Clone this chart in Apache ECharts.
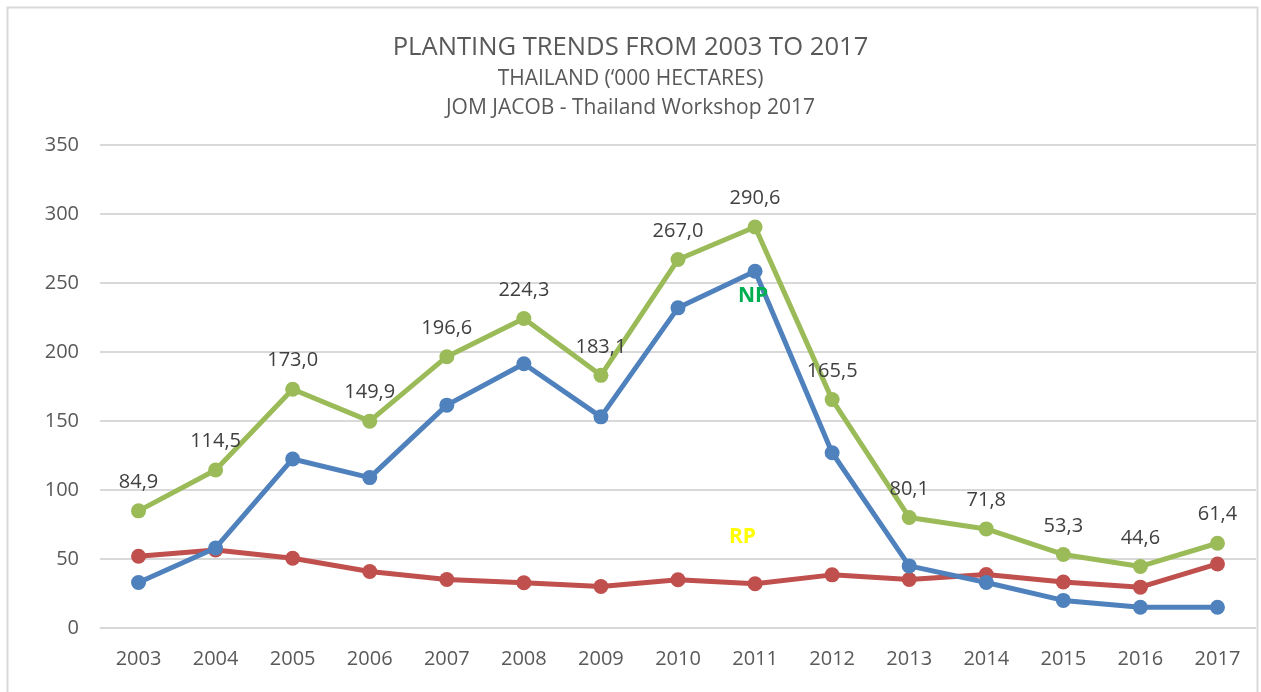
<!DOCTYPE html>
<html>
<head>
<meta charset="utf-8">
<script src="https://cdn.jsdelivr.net/npm/echarts@6/dist/echarts.min.js"></script>
<style>html,body{margin:0;padding:0;background:#fff}#c{width:1261px;height:692px}</style>
</head>
<body>
<div id="c"></div>
<script>
var categories = ['2003','2004','2005','2006','2007','2008','2009','2010','2011','2012','2013','2014','2015','2016','2017'];
var totalValues = [84.9,114.5,173.0,149.9,196.6,224.3,183.1,267.0,290.6,165.5,80.1,71.8,53.3,44.6,61.4];
var npValues = [33,58,122.5,109,161.5,191.5,153,232,258.5,127,45,33,20,15,15];
var rpValues = [52,56.5,50.5,40.9,35.1,32.8,30.1,35,32.1,38.5,35.1,38.8,33.3,29.6,46.4];
var yTicks = {min:0, max:350, interval:50};

var font = '"Open Sans", "Noto Sans", sans-serif';
var chart = echarts.init(document.getElementById('c'));
function fmt(v){return v.toFixed(1).replace('.', ',');}
chart.setOption({
  animation:false,
  backgroundColor:'#fff',
  title:[
    {text:'PLANTING TRENDS FROM 2003 TO 2017', left:'center', top:30, textStyle:{fontFamily:font, fontSize:25.6, fontWeight:'normal', color:'#595959'}},
    {text:'THAILAND (\u2018000 HECTARES)', left:'center', top:64, textStyle:{fontFamily:font, fontSize:21, fontWeight:'normal', color:'#595959'}},
    {text:'JOM JACOB - Thailand Workshop 2017', left:'center', top:93, textStyle:{fontFamily:font, fontSize:21, fontWeight:'normal', color:'#595959'}}
  ],
  grid:{left:100, right:5, top:145, bottom:64},
  xAxis:{type:'category', data:categories, boundaryGap:true,
    axisLine:{show:true, lineStyle:{color:'#d9d9d9', width:1}}, axisTick:{show:false},
    axisLabel:{fontFamily:font, fontSize:20, color:'#595959', margin:21}},
  yAxis:{type:'value', min:yTicks.min, max:yTicks.max, interval:yTicks.interval,
    axisLine:{show:false}, axisTick:{show:false},
    splitLine:{lineStyle:{color:'#d9d9d9', width:2}},
    axisLabel:{fontFamily:font, fontSize:20, color:'#595959', margin:21}},
  series:[
    {name:'NP', type:'line', data:npValues, symbol:'circle', symbolSize:15,
      lineStyle:{color:'#4F81BD', width:5}, itemStyle:{color:'#4F81BD'}, z:3},
    {name:'RP', type:'line', data:rpValues, symbol:'circle', symbolSize:15,
      lineStyle:{color:'#C0504D', width:5}, itemStyle:{color:'#C0504D'}, z:2},
    {name:'Total', type:'line', data:totalValues, symbol:'circle', symbolSize:15,
      lineStyle:{color:'#9BBB59', width:5}, itemStyle:{color:'#9BBB59'}, z:4,
      label:{show:true, position:'top', distance:11, fontFamily:font, fontSize:20, color:'#404040',
        formatter:function(p){return fmt(p.value);}}}
  ],
  graphic:[
    {type:'rect', shape:{x:7.5, y:7.5, width:1250, height:700}, style:{fill:'none', stroke:'#d9d9d9', lineWidth:2}, silent:true},
    {type:'text', left:738, top:286, style:{text:'NP', fill:'#00B050', font:'bold 21px '+font}, z:10},
    {type:'text', left:729, top:527, style:{text:'RP', fill:'#FFFF00', font:'bold 21px '+font}, z:10}
  ]
});
</script>
</body>
</html>
